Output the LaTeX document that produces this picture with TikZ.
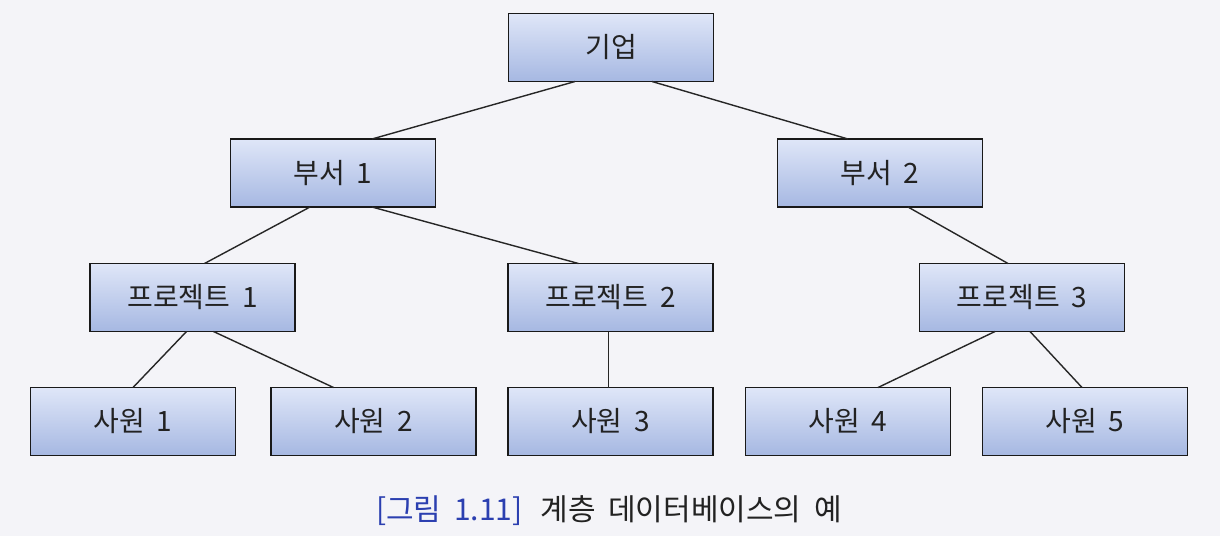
\documentclass[tikz,border=0pt]{standalone}
\usepackage{fontspec}
\setmainfont{Noto Sans CJK KR}
\usetikzlibrary{calc}
\definecolor{bg}{HTML}{F4F4F8}
\definecolor{boxtop}{HTML}{DFE6F8}
\definecolor{boxbot}{HTML}{A6B8E2}
\definecolor{capblue}{HTML}{2B3FB0}
\definecolor{txt}{HTML}{222222}
\newcommand{\gap}{\hspace{0.42em}}
\tikzset{
  entity/.style={draw=black!90, line width=1.8pt, top color=boxtop, bottom color=boxbot,
    minimum width=205pt, minimum height=68pt, inner sep=0pt, outer sep=0pt,
    text=txt, font=\fontsize{28}{32}\selectfont},
  link/.style={draw=black!85, line width=1.4pt}
}
\begin{document}
\begin{tikzpicture}[x=1pt,y=-1pt]
\fill[bg] (0,0) rectangle (1220,536);
\useasboundingbox (0,0) rectangle (1220,536);
\node[entity] (corp) at (611,47.5) {기업};
\node[entity] (d1) at (333,173) {부서\gap 1};
\node[entity] (d2) at (880,173) {부서\gap 2};
\node[entity] (p1) at (192.5,297.5) {프로젝트\gap 1};
\node[entity] (p2) at (610.5,297.5) {프로젝트\gap 2};
\node[entity] (p3) at (1022,297.5) {프로젝트\gap 3};
\node[entity] (e1) at (133,421.5) {사원\gap 1};
\node[entity] (e2) at (373.5,421.5) {사원\gap 2};
\node[entity] (e3) at (610.5,421.5) {사원\gap 3};
\node[entity] (e4) at (848,421.5) {사원\gap 4};
\node[entity] (e5) at (1085,421.5) {사원\gap 5};
\draw[link] ($(corp.south)+(-36,0)$) -- ($(d1.north)+(39,0)$);
\draw[link] ($(corp.south)+(41,0)$) -- ($(d2.north)+(-32,0)$);
\draw[link] ($(d1.south)+(-23,0)$) -- ($(p1.north)+(12,0)$);
\draw[link] ($(d1.south)+(39,0)$) -- ($(p2.north)+(-32,0)$);
\draw[link] ($(d2.south)+(28,0)$) -- ($(p3.north)+(-14,0)$);
\draw[link] ($(p1.south)+(-6,0)$) -- ($(e1.north)+(0,0)$);
\draw[link] ($(p1.south)+(21,0)$) -- ($(e2.north)+(-40,0)$);
\draw[link] ($(p2.south)+(-2,0)$) -- ($(e3.north)+(-2,0)$);
\draw[link] ($(p3.south)+(-27,0)$) -- ($(e4.north)+(30,0)$);
\draw[link] ($(p3.south)+(8,0)$) -- ($(e5.north)+(-3,0)$);
\node[anchor=base west, inner sep=0pt, font=\fontsize{30}{34}\selectfont] (cap) at (376,520)
  {\textcolor{capblue}{[그림\gap 1.11]}\hspace{18pt}\textcolor{txt}{계층\gap 데이터베이스의\gap 예}};
\end{tikzpicture}
\end{document}
